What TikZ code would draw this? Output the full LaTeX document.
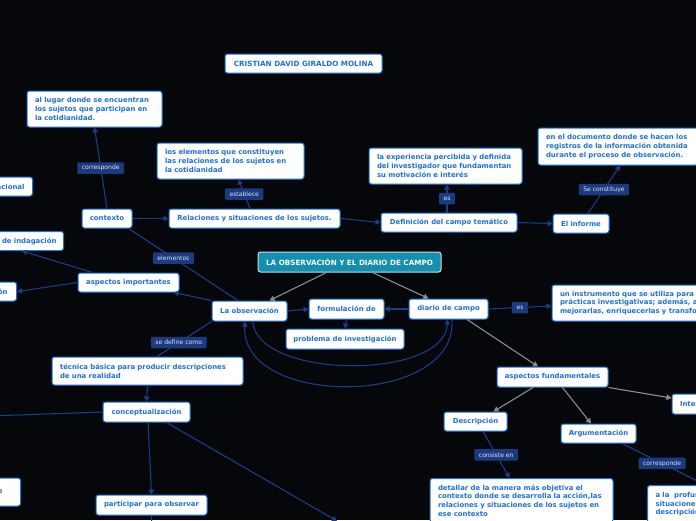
\documentclass[tikz,border=0pt]{standalone}
\usepackage{fontspec}
\newfontfamily\djv{DejaVu Sans}
\usetikzlibrary{arrows.meta,calc}
\definecolor{bgc}{RGB}{5,7,10}
\definecolor{ntext}{RGB}{30,112,218}
\definecolor{nborder}{RGB}{28,114,214}
\definecolor{linec}{RGB}{28,60,135}
\definecolor{lblfill}{RGB}{27,58,128}
\definecolor{lbltext}{RGB}{222,228,244}
\definecolor{greyc}{RGB}{140,140,140}
\definecolor{titlefill}{RGB}{20,143,176}
\definecolor{titleborder}{RGB}{200,222,232}
\newcommand\mnbold{\djv\bfseries\fontsize{6.9}{8.7}\selectfont}
\newcommand\mntitle{\djv\bfseries\fontsize{7.2}{8.7}\selectfont}
\newcommand\mnlbl{\djv\fontsize{6.1}{7}\selectfont}
\begin{document}
\begin{tikzpicture}[x=1pt,y=-1pt,
  box/.style={draw=nborder, line width=1pt, fill=white, rounded corners=2.5pt,
    text=ntext, font=\mnbold, inner sep=0pt, minimum height=19pt, align=center},
  mbox/.style={box, align=left, inner xsep=8pt},
  rbox/.style={box, align=right},
  titlebox/.style={box, fill=titlefill, draw=titleborder, text=white, font=\mntitle, minimum height=20pt},
  lbl/.style={fill=lblfill, text=lbltext, font=\mnlbl, inner xsep=4.5pt, inner ysep=0pt,
    minimum height=11.5pt, rounded corners=1pt},
  conn/.style={draw=linec, line width=1.1pt},
  arr/.style={conn, -{Triangle[length=5pt,width=5.5pt]}},
  garr/.style={draw=greyc, line width=1.1pt, -{Triangle[length=5pt,width=5.5pt]}}]
\useasboundingbox (0,0) rectangle (696,520);
\fill[bgc] (0,0) rectangle (696,520);
\clip (0,0) rectangle (696,520);

% nodes
\node[box, minimum width=157pt, font=\mntitle] (author) at (303.5,63.5) {CRISTIAN DAVID GIRALDO MOLINA};
\node[mbox, text width=119pt, minimum height=36pt] (lugar) at (94.5,109) {al lugar donde se encuentran\\los sujetos que participan en\\la cotidianidad.};
\node[box, minimum width=50pt] (contexto) at (107,218.5) {contexto};
\node[rbox, anchor=east, text width=60pt, inner xsep=8pt] (acion) at (33,186.5) {acional};
\node[mbox, text width=131pt, minimum height=36pt] (elem) at (230.5,161) {los elementos que constituyen\\las relaciones de los sujetos en\\la cotidianidad};
\node[box, minimum width=171pt] (rel) at (254.5,218.5) {Relaciones y situaciones de los sujetos.};
\node[box, minimum width=136pt] (def) at (449,222.5) {Definición del campo temático};
\node[mbox, text width=137pt, minimum height=36pt] (exp) at (445.5,166) {la experiencia percibida y definida\\del investigador que fundamentan\\su motivación e interés};
\node[box, minimum width=56pt] (inf) at (581,223.5) {El informe};
\node[mbox, text width=144pt, minimum height=37pt] (doc) at (618,146.5) {en el documento donde se hacen los\\registros de la información obtenida\\durante el proceso de observación.};
\node[titlebox, minimum width=183pt] (title) at (349.5,262) {LA OBSERVACIÓN Y EL DIARIO DE CAMPO};
\node[box, minimum width=75pt, minimum height=20pt] (laobs) at (249.5,311) {La observación};
\node[box, minimum width=75pt, minimum height=20pt] (form) at (346.5,309) {formulación de};
\node[box, minimum width=118pt, minimum height=20pt] (prob) at (345,339) {problema de investigación};
\node[box, minimum width=79pt, minimum height=20pt] (diario) at (448.5,309) {diario de campo};
\node[mbox, text width=192pt, minimum height=36pt] (instr) at (656,303) {un instrumento que se utiliza para\\prácticas investigativas; además, a\\mejorarlas, enriquecerlas y transformarlas};
\node[box, minimum width=111pt, minimum height=20pt] (afund) at (552.5,377) {aspectos fundamentales};
\node[mbox, text width=70pt, minimum height=20pt] (inte) at (715,404) {Interpretación};
\node[box, minimum width=63pt] (desc) at (475.5,421.5) {Descripción};
\node[box, minimum width=75pt] (arg) at (598.5,433.5) {Argumentación};
\node[mbox, anchor=north, text width=167pt, inner ysep=6pt] (det) at (521.5,478) {detallar de la manera más objetiva el\\contexto donde se desarrolla la acción,las\\relaciones y situaciones de los sujetos en\\ese contexto};
\node[mbox, anchor=north west, text width=100pt, inner ysep=6.5pt] (alp) at (647,485) {a la\ \ profundización\\situaciones\\descripción};
\node[rbox, anchor=east, text width=70pt, inner xsep=7pt] (indag) at (64,241) {de indagación};
\node[box, minimum width=101pt] (aimp) at (128.5,282.5) {aspectos importantes};
\node[rbox, anchor=east, text width=40pt, inner xsep=9pt] (on) at (17,291.5) {ón};
\node[mbox, text width=175pt, minimum height=28pt] (tec) at (147.5,371) {técnica básica para producir descripciones\\de una realidad};
\node[box, minimum width=87pt, minimum height=20pt] (concept) at (146.5,412) {conceptualización};
\node[box, minimum width=111pt, minimum height=20pt] (part) at (151.5,505) {participar para observar};
\node[rbox, anchor=east, text width=40pt, inner xsep=18pt, minimum height=28pt] (ebox) at (21,492) {e};

\coordinate (offL) at (-10,416);
\coordinate (offBR) at (337,521);
\coordinate (offB) at (152,530);

% connectors
\draw[arr] (contexto.north) -- node[lbl, pos=0.5] (l1) {corresponde} (lugar.south);
\draw[arr] (contexto.east) -- (rel.west);
\draw[arr] ([xshift=-4.5pt]rel.north) -- node[lbl] (l2) {establece} ([xshift=8pt]elem.south);
\draw[arr] (rel.east) -- (def.west);
\draw[arr] ([xshift=-2pt]def.north) -- node[lbl] (l3) {es} ([xshift=1.5pt]exp.south);
\draw[arr] (def.east) -- (inf.west);
\draw[arr] ([xshift=7pt]inf.north) -- node[lbl] (l4) {Se constituye} ([xshift=2pt]doc.south);

\draw[garr] ([xshift=-23pt]title.south) -- ([xshift=20pt]laobs.north);
\draw[garr] ([xshift=23pt]title.south) -- ([xshift=-20pt]diario.north);
\draw[arr] (laobs.east) -- (form.west);
\draw[arr] (diario.west) -- (form.east);
\draw[arr] (form.south) -- (prob.north);
\draw[arr] ([xshift=3pt]laobs.south) .. controls (258,380) and (445,380) .. ([xshift=-1pt]diario.south);
\draw[arr] ([xshift=3.5pt]diario.south) .. controls (458,408) and (240,408) .. ([xshift=-4.5pt]laobs.south);

\draw[arr] (laobs.north west) -- ([xshift=-6pt]aimp.south east);
\draw[arr] ([xshift=-36pt]aimp.north) -- ([xshift=-42pt]indag.south east);
\draw[arr] (aimp.west) -- (on.east);
\draw[conn] ([xshift=-11.5pt]laobs.north) -- node[lbl, pos=0.59] (l5) {elementos} ([xshift=-4pt]contexto.south east);
\draw[conn] (laobs.south west) -- node[lbl, pos=0.6] (l6) {se define como} ([xshift=9.5pt]tec.north);
\draw[arr] (tec.south) -- (concept.north);
\draw[arr] ([xshift=1.5pt]concept.south) -- (part.north);
\draw[conn] (concept.west) -- (offL);
\draw[arr] ([xshift=20pt]concept.south) -- (offBR);
\draw[conn] (part.south) -- (offB);

\draw[arr] (diario.east) -- node[lbl] (l7) {es} ([yshift=-3pt]instr.west);
\draw[garr] ([xshift=18.5pt]diario.south) -- ([xshift=-14.5pt]afund.north);
\draw[garr] (afund.south east) -- ([yshift=6pt]inte.west);
\draw[garr] ([xshift=-19.5pt]afund.south) -- ([xshift=18pt]desc.north);
\draw[garr] ([xshift=10pt]afund.south) -- ([xshift=-7.5pt]arg.north);
\draw[arr] ([xshift=7.5pt]desc.south) -- node[lbl] (l8) {consiste en} ([xshift=-12pt]det.north);
\draw[arr] ([xshift=23.5pt]arg.south) -- node[lbl, pos=0.48] (l9) {corresponde} (alp.north);
\end{tikzpicture}
\end{document}
